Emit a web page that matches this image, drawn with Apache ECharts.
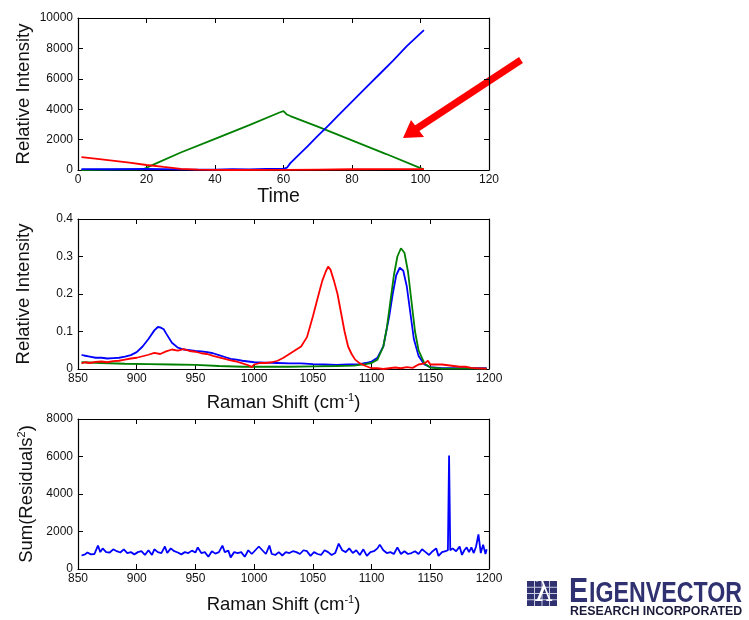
<!DOCTYPE html>
<html><head><meta charset="utf-8">
<script src="https://cdn.jsdelivr.net/npm/echarts@6/dist/echarts.min.js"></script>
<style>html,body{margin:0;padding:0;background:#fff}#c{width:749px;height:620px}</style>
</head><body><div id="c"></div>
<script>
// ---- Top panel: concentration profiles vs Time ----
const timeBlue  = [1,10,20,30,40,45,50,55,60,61,62,64,67,70,73,76,80,84,88,92,96,101];
const valBlue   = [60,50,70,40,30,60,40,70,80,150,450,900,1550,2250,2900,3600,4500,5400,6300,7200,8150,9200];
const timeGreen = [1,10,19,20,22,30,40,50,59,60,61,62,70,80,90,100,101];
const valGreen  = [0,20,40,150,350,1150,2050,2950,3800,3870,3650,3550,2850,1950,1050,120,50];
const timeRed   = [1,5,10,15,20,25,30,35,45,60,70,80,90,101];
const valRed    = [850,750,620,480,330,200,80,20,0,10,30,50,60,60];

// ---- Middle panel: spectra ----
const shiftBlue = [853,855,860,865,870,875,880,885,890,895,900,905,910,915,918,920,923,925,930,935,940,945,950,955,960,965,970,975,980,985,990,995,1000,1010,1020,1030,1040,1050,1060,1070,1080,1090,1095,1100,1105,1110,1115,1118,1121,1124,1127,1130,1133,1136,1140,1145,1150,1160,1170,1180,1190,1198];
const specBlue  = [0.038,0.036,0.033,0.030,0.030,0.028,0.029,0.030,0.033,0.037,0.045,0.060,0.080,0.103,0.112,0.111,0.106,0.095,0.070,0.057,0.052,0.050,0.048,0.047,0.045,0.042,0.037,0.032,0.027,0.025,0.022,0.020,0.018,0.017,0.016,0.015,0.015,0.013,0.012,0.011,0.012,0.013,0.016,0.020,0.030,0.060,0.140,0.200,0.250,0.270,0.262,0.220,0.150,0.080,0.035,0.012,0.005,0.002,0.002,0.002,0.002,0.002];
const shiftGreen = [853,870,890,910,930,950,970,990,1010,1030,1050,1070,1085,1095,1100,1105,1110,1113,1116,1119,1122,1125,1128,1131,1134,1137,1140,1145,1150,1160,1198];
const specGreen  = [0.018,0.016,0.014,0.013,0.012,0.011,0.008,0.006,0.006,0.006,0.007,0.008,0.009,0.013,0.016,0.025,0.060,0.110,0.180,0.250,0.300,0.322,0.310,0.260,0.180,0.100,0.050,0.015,0.004,0.001,0.001];
const shiftRed = [853,856,860,865,870,875,880,885,890,895,900,905,910,915,920,925,930,935,940,945,950,955,960,965,970,975,980,985,990,995,998,1000,1005,1010,1015,1020,1025,1030,1035,1040,1045,1050,1055,1058,1061,1063,1065,1068,1071,1074,1077,1080,1083,1086,1090,1095,1100,1105,1110,1115,1120,1125,1130,1135,1140,1145,1148,1150,1155,1160,1165,1170,1175,1180,1185,1190,1198];
const specRed  = [0.015,0.018,0.016,0.019,0.020,0.018,0.021,0.022,0.025,0.028,0.030,0.034,0.038,0.043,0.040,0.047,0.052,0.049,0.053,0.048,0.046,0.042,0.040,0.035,0.031,0.027,0.023,0.020,0.015,0.010,0.005,0.012,0.016,0.016,0.018,0.022,0.030,0.040,0.050,0.060,0.085,0.140,0.200,0.235,0.260,0.273,0.265,0.235,0.200,0.150,0.100,0.060,0.040,0.025,0.015,0.008,0.002,0.002,0.000,0.002,0.004,0.002,0.005,0.003,0.012,0.015,0.022,0.012,0.012,0.012,0.010,0.008,0.006,0.006,0.003,0.002,0.001];

// ---- Bottom panel: residuals ----
const resShift = [853,856,858,861,864,867,869,871,874,877,880,883,886,889,892,895,898,901,904,907,910,913,915,918,921,924,926,929,932,935,938,941,944,947,950,952,955,958,961,964,967,970,973,975,978,980,983,986,989,992,995,998,1001,1004,1007,1010,1013,1015,1018,1021,1024,1027,1030,1033,1036,1039,1042,1045,1048,1051,1054,1057,1060,1063,1066,1069,1072,1075,1078,1081,1084,1087,1090,1093,1096,1099,1102,1105,1107,1110,1113,1116,1119,1122,1125,1128,1131,1134,1137,1140,1143,1146,1149,1152,1155,1157,1160,1163,1165,1166,1167,1169,1172,1175,1177,1179,1181,1183,1185,1187,1189,1191,1193,1195,1197,1198];
const resSum   = [720,780,880,780,800,1250,900,1100,900,880,1050,950,880,1050,850,900,780,900,950,750,1000,750,1050,900,850,1200,850,1100,950,880,780,900,850,980,880,1150,850,900,650,950,820,900,1250,900,980,620,900,850,900,650,1000,800,1000,1200,1000,800,1250,800,750,900,720,900,850,950,900,800,1000,950,700,900,800,750,1000,900,750,850,1350,1000,900,1100,850,1000,750,1050,700,900,950,1100,1300,1000,850,900,800,1150,800,950,800,850,950,800,1050,900,750,950,1100,700,900,950,1000,6050,1000,1100,950,1200,750,1000,1150,900,1150,850,1200,1850,850,1300,800,1050];

function pairs(xs, ys){ return xs.map((x,i)=>[x, ys[i]]); }

const chart = echarts.init(document.getElementById('c'), null, {renderer:'canvas'});
const FONT = 'Liberation Sans, Arial, Helvetica, sans-serif';
const fmt = v => String(Math.round(v*1000)/1000);
const lbl = {color:'#111', fontSize:12, fontFamily:FONT, formatter:fmt};
const tick = {show:true, inside:true, length:5, lineStyle:{color:'#000', width:1}};
const line = {show:true, onZero:false, lineStyle:{color:'#000', width:1.2}};

const grids = [
  {left:78, top:18, width:411, height:152},
  {left:78, top:219, width:411, height:150},
  {left:78, top:419, width:411, height:150}
];
const xr = [[0,120,20],[850,1200,50],[850,1200,50]];
const yr = [[0,10000,2000],[0,0.4,0.1],[0,8000,2000]];
const xNames = ['Time', 'Raman Shift (cm{sup|-1})', 'Raman Shift (cm{sup|-1})'];
const yNames = ['Relative Intensity', 'Relative Intensity', 'Sum(Residuals{sup|2})'];
const xGaps = [17, 23, 25];
const yGaps = [44.5, 44.5, 41];

const xAxis = [], yAxis = [];
grids.forEach((g,i)=>{
  xAxis.push({type:'value', gridIndex:i, position:'bottom', min:xr[i][0], max:xr[i][1], interval:xr[i][2],
    axisLine:line, axisTick:tick, splitLine:{show:false}, axisLabel:Object.assign({}, lbl, {margin:4}),
    name:xNames[i], nameLocation:'middle', nameGap: xGaps[i], nameMoveOverlap:false,
    nameTextStyle:{fontSize: i===0?19.5:18.5, color:'#111', fontFamily:FONT, padding: i===0?[0,10,0,0]:0,
      rich:{sup:{fontSize:11, verticalAlign:'top', padding:[0,0,10,0], color:'#111', fontFamily:FONT}}}});
  xAxis.push({type:'value', gridIndex:i, position:'top', min:xr[i][0], max:xr[i][1], interval:xr[i][2],
    axisLine:line, axisTick:tick, splitLine:{show:false}, axisLabel:{show:false}});
  yAxis.push({type:'value', gridIndex:i, position:'left', min:yr[i][0], max:yr[i][1], interval:yr[i][2],
    axisLine:line, axisTick:tick, splitLine:{show:false}, axisLabel:Object.assign({}, lbl, {margin:5}),
    name:yNames[i], nameLocation:'middle', nameGap:yGaps[i], nameRotate:90, nameMoveOverlap:false,
    nameTextStyle:{fontSize:18.5, color:'#111', fontFamily:FONT,
      rich:{sup:{fontSize:11, verticalAlign:'top', padding:[0,0,10,0], color:'#111', fontFamily:FONT}}}});
  yAxis.push({type:'value', gridIndex:i, position:'right', min:yr[i][0], max:yr[i][1], interval:yr[i][2],
    axisLine:line, axisTick:tick, splitLine:{show:false}, axisLabel:{show:false}});
});

function ser(gi, data, color){
  return {type:'line', xAxisIndex:gi*2, yAxisIndex:gi*2, data:data, symbol:'none',
    lineStyle:{color:color, width:1.8}, itemStyle:{color:color}, animation:false};
}

const NAVY = '#2f3170';
const gridLines = [];
for (let k=1;k<4;k++){
  gridLines.push({type:'line', shape:{x1:527+k*7.5, y1:581, x2:527+k*7.5, y2:606}, style:{stroke:'#c9cbe0', lineWidth:1}});
  gridLines.push({type:'line', shape:{x1:527, y1:581+k*6.25, x2:557, y2:581+k*6.25}, style:{stroke:'#c9cbe0', lineWidth:1}});
}

chart.setOption({
  animation:false,
  grid:grids,
  xAxis:xAxis,
  yAxis:yAxis,
  series:[
    ser(0, pairs(timeGreen, valGreen), '#008000'),
    ser(0, pairs(timeBlue, valBlue), '#0000ff'),
    ser(0, pairs(timeRed, valRed), '#ff0000'),
    ser(1, pairs(shiftBlue, specBlue), '#0000ff'),
    ser(1, pairs(shiftGreen, specGreen), '#008000'),
    ser(1, pairs(shiftRed, specRed), '#ff0000'),
    ser(2, pairs(resShift, resSum), '#0000ff')
  ],
  graphic:[
    {type:'line', shape:{x1:521, y1:60, x2:416, y2:129}, style:{stroke:'#ff0000', lineWidth:7}},
    {type:'polygon', shape:{points:[[403,138],[411,120],[424,137]]}, style:{fill:'#ff0000'}},
    {type:'rect', shape:{x:527, y:581, width:30, height:25}, style:{fill:NAVY}},
  ].concat(gridLines).concat([
    {type:'text', x:534, y:593, style:{text:'λ', fontSize:30, fontFamily:'DejaVu Serif, serif', fill:'#fff', verticalAlign:'middle'}},
    {type:'text', x:569, y:592, scaleX:0.82, style:{text:'E', fontSize:35, fontWeight:'bold', fontFamily:FONT, fill:NAVY, verticalAlign:'middle'}},
    {type:'text', x:589, y:594, scaleX:0.80, style:{text:'IGENVECTOR', fontSize:29, fontWeight:'bold', fontFamily:FONT, fill:NAVY, verticalAlign:'middle'}},
    {type:'text', x:570, y:612, scaleX:1.03, style:{text:'RESEARCH INCORPORATED', fontSize:12, fontWeight:'bold', fontFamily:FONT, fill:'#1a1a3a', verticalAlign:'middle'}}
  ])
});
</script></body></html>
